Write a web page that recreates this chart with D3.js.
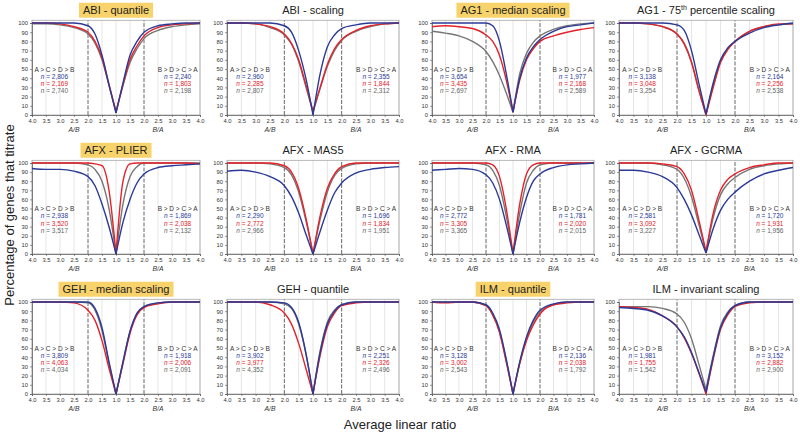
<!DOCTYPE html>
<html><head><meta charset="utf-8">
<script src="https://cdn.jsdelivr.net/npm/d3@7"></script>
<style>body{margin:0;background:#fff}svg{font-family:"Liberation Sans",Arial,sans-serif}</style>
</head><body><svg id="c" width="800" height="438"></svg>
<script>
// ---- data ----
const titles = ["ABI - quantile","ABI - scaling","AG1 - median scaling","AG1 - 75th percentile scaling",
  "AFX - PLIER","AFX - MAS5","AFX - RMA","AFX - GCRMA",
  "GEH - median scaling","GEH - quantile","ILM - quantile","ILM - invariant scaling"];
const highlighted = [true,false,true,false, true,false,false,false, true,false,true,false];
const tickLabels = ["4.0","3.5","3.0","2.5","2.0","1.5","1.0","1.5","2.0","2.5","3.0","3.5","4.0"];
const yTicks = [0,10,20,30,40,50,60,70,80,90,100];
const leftRatios = [4.0,3.5,3.0,2.5,2.0,1.75,1.5,1.25,1.0];
const rightRatios = [1.25,1.5,1.75,2.0,2.5,3.0,3.5,4.0];
const leftOrder = "A > C > D > B";
const rightOrder = "B > D > C > A";
const nLeft = [
  ["2,806","2,169","2,740"],["2,960","2,285","2,807"],["3,654","3,435","2,697"],["3,138","3,048","3,254"],
  ["2,938","3,520","3,517"],["2,290","2,772","2,966"],["2,772","3,305","3,365"],["2,581","3,092","3,227"],
  ["3,809","4,063","4,034"],["3,902","3,977","4,352"],["3,128","3,002","2,543"],["1,981","1,755","1,542"]];
const nRight = [
  ["2,240","1,803","2,198"],["2,355","1,844","2,312"],["1,977","2,168","2,589"],["2,164","2,256","2,538"],
  ["1,869","2,038","2,132"],["1,696","1,834","1,951"],["1,781","2,020","2,015"],["1,720","1,931","1,956"],
  ["1,918","2,006","2,091"],["2,251","2,326","2,496"],["2,136","2,038","1,792"],["3,152","2,882","2,900"]];
// values at A/B 4.0..1.0 then B/A 1.25..4.0
const seriesBlue = [
  [100,100,100,100,97,88,65,33,2,35,65,80,90,97,99,100,100],
  [100,100,100,100,97,90,70,40,0,45,74,87,94,98,100,100,100],
  [100,100,100,100,100,97,80,45,3,40,62,74,82,91,96,98,100],
  [100,100,100,100,98,92,70,35,1,35,60,73,80,89,95,98,100],
  [94,93,93,91,85,75,55,30,0,35,60,78,88,95,97,98,99],
  [91,92,90,85,75,63,45,22,0,25,48,67,78,89,93,95,96],
  [92,93,94,93,87,78,60,32,0,35,62,80,88,95,98,99,100],
  [92,92,90,85,73,60,43,22,1,28,48,60,68,80,88,92,95],
  [100,100,100,100,100,93,72,35,0,35,68,88,95,99,100,100,100],
  [100,100,100,100,99,94,78,45,0,45,76,90,97,100,100,100,100],
  [100,100,100,100,97,88,70,38,0,35,62,80,91,98,100,100,100],
  [94,93,91,85,73,62,45,24,2,40,72,88,96,100,100,100,100]];
const seriesRed = [
  [100,100,99,96,90,80,62,33,4,33,60,75,86,95,98,99,100],
  [100,100,99,96,88,78,60,33,4,30,55,72,82,92,97,99,100],
  [96,97,96,94,87,80,65,38,3,38,60,72,80,86,90,93,95],
  [100,100,99,96,88,77,57,27,0,30,57,71,80,91,96,99,99],
  [100,100,100,100,100,99,97,70,0,80,99,100,100,100,100,100,99],
  [100,100,100,100,97,90,72,40,0,42,72,88,96,100,100,100,100],
  [100,100,100,100,100,98,85,50,0,55,88,98,100,100,100,100,100],
  [100,100,100,99,96,88,70,38,2,45,70,82,88,95,98,100,100],
  [100,100,100,99,91,80,58,28,0,33,66,86,94,98,100,100,100],
  [100,100,100,97,88,76,55,28,0,42,73,88,96,99,100,100,100],
  [100,99,100,100,96,86,67,35,0,33,58,75,87,97,99,100,100],
  [95,94,92,85,73,61,44,23,0,38,70,86,95,99,100,100,100]];
const seriesGray = [
  [99,99,98,95,88,78,60,32,3,32,57,72,83,92,96,98,99],
  [100,100,99,95,87,77,58,31,3,29,53,70,81,91,96,99,100],
  [91,89,86,80,69,58,43,24,3,45,67,79,86,93,97,99,100],
  [100,100,99,96,88,78,58,28,1,32,58,72,80,91,96,98,99],
  [100,100,100,100,98,93,80,50,0,55,85,96,100,100,100,100,100],
  [100,100,100,99,95,87,68,37,0,38,68,86,94,99,100,100,100],
  [100,100,100,100,98,92,75,42,0,45,78,92,98,100,100,100,100],
  [100,100,100,98,93,83,63,33,2,40,65,77,84,93,97,99,100],
  [100,100,100,100,99,91,69,33,0,35,68,87,95,99,100,100,100],
  [100,100,100,100,98,93,76,44,0,47,78,91,97,100,100,100,100],
  [100,100,100,100,96,86,68,36,0,34,60,78,89,97,100,100,100],
  [95,95,95,93,87,78,60,33,5,42,74,89,96,100,100,100,100]];

// ---- layout ----
const colX0 = [32,227,432,619], colX1 = [200,399,594,793];
const rowY100 = [23,163,302], rowY0 = [115,254,394];
const colors = {blue:"#2b3a96", red:"#e4222a", gray:"#767676"};
const svg = d3.select("#c");

const xs = leftRatios.map(r => -(r-1)).concat(rightRatios.map(r => r-1));
const tickPos = d3.range(-3, 3.01, 0.5);

titles.forEach((title, i) => {
  const row = Math.floor(i/4), col = i%4;
  const x = d3.scaleLinear().domain([-3,3]).range([colX0[col], colX1[col]]);
  const y0 = rowY0[row], y100 = rowY100[row];
  const y = d3.scaleLinear().domain([0,100]).range([y0, y100]);
  const g = svg.append("g");
  const top = y(103);
  const isTwo = d => Math.abs(Math.abs(d)-1) < 1e-6;
  // grid
  g.selectAll(".vg").data(tickPos).join("line")
    .attr("x1", d=>x(d)).attr("x2", d=>x(d)).attr("y1", y0).attr("y2", top)
    .attr("stroke", d => isTwo(d) ? "#555" : "#d4d4d4")
    .attr("stroke-width", d => isTwo(d) ? 0.9 : 0.6)
    .attr("stroke-dasharray", d => isTwo(d) ? "4,1.5" : null);
  // frame
  g.append("rect").attr("x", x(-3)).attr("y", top).attr("width", x(3)-x(-3)).attr("height", y0-top)
    .attr("fill","none").attr("stroke","#9a9a9a").attr("stroke-width",0.7);
  // y axis
  const ya = d3.axisLeft(y).tickValues(yTicks).tickSize(2).tickPadding(2);
  const yg = g.append("g").attr("transform",`translate(${x(-3)},0)`).call(ya);
  yg.select(".domain").attr("stroke","#555").attr("stroke-width",0.7);
  yg.selectAll("line").attr("stroke","#555").attr("stroke-width",0.6);
  yg.selectAll("text").attr("font-size",5.8).attr("fill","#333").style("font-family","Liberation Sans, Arial");
  // x axis
  const xa = d3.axisBottom(x).tickValues(tickPos).tickSize(2).tickPadding(2).tickFormat((d,k)=>tickLabels[k]);
  const xg = g.append("g").attr("transform",`translate(0,${y0})`).call(xa);
  xg.select(".domain").attr("stroke","#555").attr("stroke-width",0.7);
  xg.selectAll("line").attr("stroke","#555").attr("stroke-width",0.6);
  xg.selectAll("text").attr("font-size",5.8).attr("fill","#333").style("font-family","Liberation Sans, Arial");
  // A/B, B/A
  g.append("text").attr("x", x(-1.5)).attr("y", y0+17).attr("text-anchor","middle")
    .attr("font-size",6.8).attr("font-style","italic").attr("fill","#333").text("A/B");
  g.append("text").attr("x", x(1.5)).attr("y", y0+17).attr("text-anchor","middle")
    .attr("font-size",6.8).attr("font-style","italic").attr("fill","#333").text("B/A");
  // curves
  const line = d3.line().x(d=>x(d[0])).y(d=>y(d[1])).curve(d3.curveMonotoneX);
  [["gray",seriesGray],["red",seriesRed],["blue",seriesBlue]].forEach(([c, s]) => {
    const pts = xs.map((xv,k)=>[xv, s[i][k]]);
    const left = pts.slice(0,9), right = pts.slice(8);
    [left,right].forEach(p => g.append("path").attr("d", line(p)).attr("fill","none")
      .attr("stroke", colors[c]).attr("stroke-width",1.4).attr("stroke-linejoin","round"));
  });
  // annotations
  const annColors = [colors.blue, colors.red, "#666"];
  [[-2.2, leftOrder, nLeft[i]], [2.2, rightOrder, nRight[i]]].forEach(([cx, ord, ns]) => {
    const t0 = y(47);
    g.append("text").attr("x", x(cx)).attr("y", t0).attr("text-anchor","middle")
      .attr("font-size",6.5).attr("fill","#333").text(ord);
    ns.forEach((n,k) => {
      const t = g.append("text").attr("x", x(cx)).attr("y", t0 + 7.2*(k+1)).attr("text-anchor","middle")
        .attr("font-size",6.5).attr("fill", annColors[k]);
      t.append("tspan").attr("font-style","italic").text("n");
      t.append("tspan").text(" = " + n);
    });
  });
  // title
  const tx = x(0), ty = top - 6;
  const tt = g.append("text").attr("x", tx).attr("y", ty).attr("text-anchor","middle")
    .attr("font-size",11).attr("fill","#222");
  if (title.includes("75th")) {
    tt.append("tspan").text("AG1 - 75");
    tt.append("tspan").attr("font-size",7).attr("dy",-4).text("th");
    tt.append("tspan").attr("dy",4).text(" percentile scaling");
  } else tt.text(title);
  if (highlighted[i]) {
    const bb = tt.node().getBBox();
    g.insert("rect", () => tt.node()).attr("x", bb.x-4).attr("y", bb.y-1.5)
      .attr("width", bb.width+8).attr("height", bb.height+3).attr("fill","#f8d36c");
  }
});

svg.append("text").attr("transform","translate(14,215) rotate(-90)").attr("text-anchor","middle")
  .attr("font-size",13).attr("fill","#222").text("Percentage of genes that titrate");
svg.append("text").attr("x",400).attr("y",429).attr("text-anchor","middle")
  .attr("font-size",13).attr("fill","#222").text("Average linear ratio");
</script></body></html>
